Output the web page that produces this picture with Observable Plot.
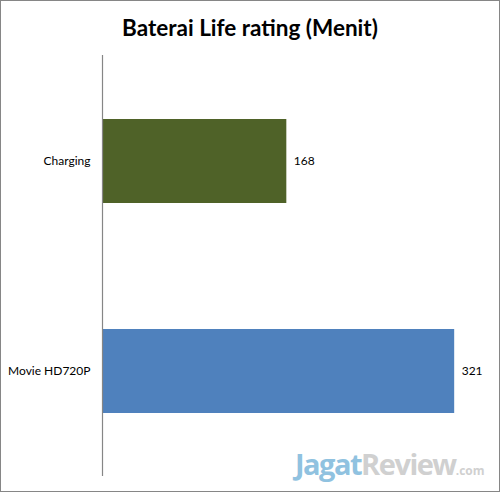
<!DOCTYPE html>
<html>
<head>
<meta charset="utf-8">
<script src="https://cdn.jsdelivr.net/npm/d3@7"></script>
<script src="https://cdn.jsdelivr.net/npm/@observablehq/plot@0.6"></script>
<style>
  html, body { margin: 0; padding: 0; background: #fff; }
  #frame { position: relative; width: 500px; height: 492px; box-sizing: border-box; border: 1px solid #868686; background: #fff; overflow: hidden; }
  #title { height: 49px; line-height: 54px; text-align: center; font-family: Lato, "Open Sans", sans-serif; font-weight: bold; font-size: 22.5px; color: #000; }
  #chart { position: absolute; left: 0; top: 49px; }
  #wm { position: absolute; left: 294px; top: 443px; white-space: nowrap; font-family: "Open Sans", Lato, sans-serif; font-weight: bold; font-size: 29px; letter-spacing: -1.5px; }
  #wm .a { color: #6baed6; opacity: 0.75; }
  #wm .b { color: #d0d0d0; }
  #wm .c { color: #d0d0d0; font-size: 12px; letter-spacing: 0; }
</style>
</head>
<body>
<div id="frame">
  <div id="title">Baterai Life rating (Menit)</div>
  <div id="chart"></div>
  <div id="wm"><span class="a">Jagat</span><span class="b">Review</span><span class="c">.com</span></div>
</div>
<script>
const categories = ["Charging", "Movie HD720P"];
const values = [168, 321];
const colors = ["#4F6228", "#4F81BD"];

const data = categories.map((c, i) => ({category: c, value: values[i], color: colors[i]}));

const plot = Plot.plot({
  width: 498,
  height: 441,
  marginTop: 5,
  marginBottom: 15,
  marginLeft: 101,
  marginRight: 13,
  style: {fontFamily: "Lato, 'Open Sans', sans-serif", fontSize: "12px", color: "#000", background: "transparent"},
  x: {domain: [0, 350], axis: null},
  y: {domain: categories, paddingInner: 0.6, paddingOuter: 0.3, label: null, tickSize: 0, tickPadding: 12},
  marks: [
    Plot.barX(data, {x: "value", y: "category", fill: "color"}),
    Plot.text(data, {x: "value", y: "category", text: d => String(d.value), textAnchor: "start", dx: 7, fontSize: 12, fill: "#000"}),
    Plot.ruleX([0], {stroke: "#868686", strokeWidth: 1.2})
  ]
});
document.getElementById("chart").appendChild(plot);
</script>
</body>
</html>
